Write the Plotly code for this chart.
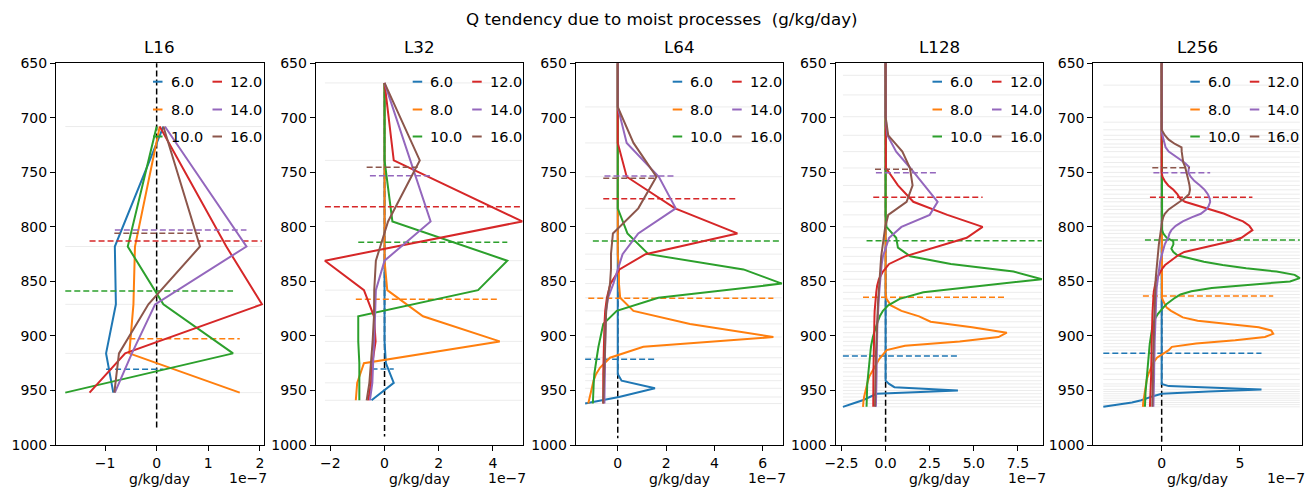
import plotly.graph_objects as go

# ---------------- data ----------------
# x values are in units of 1e-7 g/kg/day, y values are pressure (hPa)
labels = ["6.0", "8.0", "10.0", "12.0", "14.0", "16.0"]
colors = ["#1f77b4", "#ff7f0e", "#2ca02c", "#d62728", "#9467bd", "#8c564b"]
titles = ["L16", "L32", "L64", "L128", "L256"]

# ---- L16 ----
L16_lev = [708, 818, 871, 916, 952]
L16_q6 = [0.13, -0.81, -0.79, -0.98, -0.84]
L16_q8 = [0.06, -0.42, -0.45, -0.53, 1.61]
L16_q10 = [0.0, -0.56, 0.13, 1.48, -1.77]
L16_q12 = [0.06, 1.35, 2.04, -0.61, -1.30]
L16_q14 = [0.16, 1.74, -0.03, -0.48, -0.81]
L16_q16 = [0.13, 0.84, -0.16, -0.73, -0.82]
L16_pbl = [930.6, 902.5, 858.8, 813.0, 802.8, 805.9]
L16_zero = [640, 984.7]

# ---- L32 ----
L32_lev = [668, 739, 795, 831, 858, 882, 905, 925, 943, 959]
L32_q6 = [0, 0, 0, 0, 0, 0, 0, 0.05, 0.34, -0.48]
L32_q8 = [0, 0, 0, 0, 0.1, 1.42, 4.25, -0.76, -1.01, -1.06]
L32_q10 = [0, 0, 0.29, 4.53, 3.45, -0.97, -0.97, -0.93, -0.93, -0.93]
L32_q12 = [0, 0.34, 5.08, -2.2, -0.76, -0.39, -0.33, -0.45, -0.5, -0.6]
L32_q14 = [0, 0.96, 1.70, 0.0, -0.32, -0.35, -0.39, -0.42, -0.45, -0.54]
L32_q16 = [0, 1.30, 0.13, -0.32, -0.38, -0.39, -0.44, -0.5, -0.56, -0.66]
L32_pbl = [930.3, 866.4, 814.2, 781.5, 753.0, 745.4]
L32_zero = [668, 992.3]

# ---- L64 ----
L64_lev = [645, 690, 723, 754, 783, 806, 825, 839, 852, 865,
           877, 889, 901, 910, 920, 929, 935, 941, 948, 956,
           962]
L64_q6 = [0, 0, 0, 0, 0, 0, 0, 0, 0, 0,
          0, 0, 0, 0, 0, 0, 0, 0.16, 1.54, 0.05,
          -1.35]
L64_q8 = [0, 0, 0, 0, 0, 0, 0, 0.05, 0.05, 0.1,
          0.65, 2.99, 6.44, 1.06, -0.32, -0.73, -0.9, -1.0, -1.08, -1.15,
          -1.22]
L64_q10 = [0, 0, 0, 0, 0, 0.4, 1.27, 5.2, 6.79, 1.68,
           -0.04, -0.6, -0.73, -0.8, -0.87, -0.94, -0.97, -0.99, -1.0, -1.02,
           -1.03]
L64_q12 = [0, 0, 0, 0.37, 2.37, 4.95, 1.15, 0.07, -0.3, -0.45,
           -0.52, -0.55, -0.57, -0.58, -0.59, -0.6, -0.6, -0.6, -0.6, -0.6,
           -0.6]
L64_q14 = [0, 0, 0.37, 1.7, 2.4, 0.85, 0.2, 0.0, -0.18, -0.4,
           -0.48, -0.5, -0.52, -0.52, -0.53, -0.53, -0.54, -0.54, -0.55, -0.55,
           -0.55]
L64_q16 = [0, 0, 0.65, 1.6, 0.85, -0.2, -0.28, -0.28, -0.32, -0.42,
           -0.48, -0.5, -0.52, -0.54, -0.55, -0.56, -0.57, -0.58, -0.59, -0.6,
           -0.6]
L64_pbl = [921.4, 865.5, 813.0, 774.1, 753.3, 755.5]
L64_zero = [645, 993.9]

# ---- L128 ----
L128_lev = [646, 661, 679, 699, 716, 731, 746, 762, 777, 789,
            800, 810, 819, 827, 834, 841, 848, 854, 860, 866,
            872, 877, 882, 887, 892, 897, 901, 905, 909, 913,
            917, 921, 925, 929, 933, 937, 941, 944, 947, 950,
            953, 956, 959, 962, 965]
L128_q6 = [0, 0, 0, 0, 0, 0, 0, 0, 0, 0,
           0, 0, 0, 0, 0, 0, 0, 0, 0, 0,
           0, 0, 0, 0, 0, 0, 0, 0, 0, 0,
           0, 0, 0, 0, 0, 0, 0, 0.2, 0.5, 4.1,
           -0.5, -0.9, -1.3, -1.85, -2.42]
L128_q8 = [0, 0, 0, 0, 0, 0, 0, 0, 0, 0,
           0, 0, 0, 0, 0, 0, 0, 0, 0, 0.05,
           0.3, 0.9, 1.9, 2.55, 4.9, 6.87, 6.4, 4.2, 1.1, 0.06,
           -0.15, -0.35, -0.5, -0.65, -0.8, -0.92, -1.0, -1.05, -1.1, -1.15,
           -1.18, -1.22, -1.25, -1.27, -1.28]
L128_q10 = [0, 0, 0, 0, 0, 0, 0, 0, 0, 0,
            0.05, 0.6, 0.7, 1.4, 3.7, 7.25, 8.86, 5.5, 2.14, 0.8,
            0.15, -0.15, -0.33, -0.45, -0.57, -0.65, -0.72, -0.78, -0.82, -0.85,
            -0.88, -0.9, -0.93, -0.96, -0.99, -1.0, -1.02, -1.04, -1.05, -1.06,
            -1.07, -1.07, -1.08, -1.08, -1.08]
L128_q12 = [0, 0, 0, 0, 0, 0, 0.02, 0.7, 1.57, 3.5,
            5.5, 4.6, 2.7, 1.1, 0.2, -0.15, -0.38, -0.48, -0.53, -0.57,
            -0.6, -0.62, -0.63, -0.64, -0.65, -0.66, -0.66, -0.67, -0.67, -0.67,
            -0.68, -0.68, -0.68, -0.69, -0.69, -0.69, -0.69, -0.7, -0.7, -0.7,
            -0.7, -0.7, -0.7, -0.7, -0.7]
L128_q14 = [0, 0, 0, 0, 0.1, 0.6, 1.4, 2.2, 2.95, 2.5,
            0.9, 0.2, 0.0, -0.15, -0.22, -0.27, -0.3, -0.33, -0.36, -0.39,
            -0.42, -0.44, -0.45, -0.46, -0.47, -0.48, -0.48, -0.49, -0.49, -0.5,
            -0.5, -0.5, -0.5, -0.51, -0.51, -0.51, -0.51, -0.52, -0.52, -0.52,
            -0.53, -0.53, -0.54, -0.54, -0.55]
L128_q16 = [0, 0, 0, 0, 0.15, 0.95, 1.38, 1.53, 1.19, 0.15,
            -0.02, -0.12, -0.2, -0.25, -0.28, -0.3, -0.33, -0.36, -0.39, -0.42,
            -0.44, -0.46, -0.47, -0.48, -0.49, -0.5, -0.51, -0.52, -0.53, -0.54,
            -0.55, -0.55, -0.56, -0.56, -0.57, -0.57, -0.58, -0.58, -0.58, -0.59,
            -0.59, -0.59, -0.6, -0.6, -0.6]
L128_pbl = [918.4, 864.6, 812.6, 772.9, 750.3, 747.2]
L128_zero = [645, 997.0]

# ---- L256 ----
L256_lev = [646, 670, 690, 704, 711, 716, 720, 724, 727, 731,
            736, 741, 745, 750, 754, 758, 762, 766, 770, 774,
            777, 781, 784, 788, 791, 795, 799, 803, 806, 810,
            813, 816, 820, 823, 826, 829, 832, 835, 838, 841,
            844, 847, 850, 853, 856, 859, 862, 865, 868, 871,
            874, 877, 880, 883, 886, 889, 892, 895, 898, 901,
            904, 907, 910, 913, 916, 920, 925, 930, 935, 940,
            944, 946, 949, 951, 953, 955, 957, 959, 961, 963,
            965]
L256_q6 = [0, 0, 0, 0, 0, 0, 0, 0, 0, 0,
           0, 0, 0, 0, 0, 0, 0, 0, 0, 0,
           0, 0, 0, 0, 0, 0, 0, 0, 0, 0,
           0, 0, 0, 0, 0, 0, 0, 0, 0, 0,
           0, 0, 0, 0, 0, 0, 0, 0, 0, 0,
           0, 0, 0, 0, 0, 0, 0, 0, 0, 0,
           0, 0, 0, 0, 0, 0, 0, 0, 0, 0,
           0, 0.45, 6.38, 3.0, 0.0, -0.5, -0.9, -1.3, -1.9, -2.8,
           -3.73]
L256_q8 = [0, 0, 0, 0, 0, 0, 0, 0, 0, 0,
           0, 0, 0, 0, 0, 0, 0, 0, 0, 0,
           0, 0, 0, 0, 0, 0, 0, 0, 0, 0,
           0, 0, 0, 0, 0, 0, 0, 0, 0, 0,
           0, 0, 0, 0, 0, 0, 0, 0.02, 0.1, 0.2,
           0.32, 0.6, 0.95, 1.35, 2.3, 4.2, 6.2, 7.0, 7.13, 6.6,
           4.7, 2.2, 0.65, 0.45, 0.1, -0.3, -0.55, -0.72, -0.85, -0.95,
           -1.0, -1.03, -1.07, -1.09, -1.11, -1.13, -1.15, -1.17, -1.18, -1.19,
           -1.2]
L256_q10 = [0, 0, 0, 0, 0, 0, 0, 0, 0, 0,
            0, 0, 0, 0, 0, 0, 0, 0, 0, 0,
            0, 0, 0, 0, 0, 0, 0, 0.03, 0.1, 0.32,
            0.74, 0.75, 0.62, 0.75, 1.0, 1.8, 2.7, 3.9, 5.4, 7.34,
            8.5, 8.83, 8.2, 5.7, 3.2, 1.9, 1.2, 0.85, 0.55, 0.3,
            0.1, -0.1, -0.25, -0.38, -0.48, -0.55, -0.6, -0.64, -0.67, -0.7,
            -0.73, -0.76, -0.78, -0.8, -0.82, -0.85, -0.89, -0.93, -0.96, -0.99,
            -1.0, -1.01, -1.02, -1.03, -1.04, -1.04, -1.05, -1.06, -1.06, -1.07,
            -1.07]
L256_q12 = [0, 0, 0, 0, 0, 0, 0, 0, 0, 0,
            0, 0, 0, 0, 0.05, 0.2, 0.42, 0.75, 1.0, 1.17,
            1.49, 2.4, 3.1, 4.0, 4.5, 5.2, 5.6, 5.8, 5.5, 5.1,
            4.5, 3.6, 2.2, 1.45, 1.05, 0.75, 0.45, 0.22, 0.05, -0.08,
            -0.2, -0.3, -0.38, -0.43, -0.47, -0.5, -0.52, -0.54, -0.55, -0.56,
            -0.57, -0.58, -0.59, -0.6, -0.6, -0.61, -0.61, -0.62, -0.62, -0.63,
            -0.63, -0.64, -0.64, -0.65, -0.65, -0.66, -0.66, -0.67, -0.67, -0.68,
            -0.68, -0.69, -0.69, -0.7, -0.7, -0.71, -0.72, -0.73, -0.74, -0.74,
            -0.75]
L256_q14 = [0, 0, 0, 0, 0, 0.05, 0.12, 0.18, 0.25, 0.45,
            0.95, 1.45, 1.75, 1.7, 1.85, 2.1, 2.45, 2.75, 2.95, 3.07,
            3.1, 3.0, 2.85, 2.5, 1.95, 1.35, 0.9, 0.62, 0.5, 0.42,
            0.3, 0.2, 0.12, 0.05, 0.0, -0.05, -0.1, -0.13, -0.16, -0.2,
            -0.23, -0.26, -0.28, -0.3, -0.32, -0.33, -0.34, -0.35, -0.36, -0.37,
            -0.38, -0.39, -0.4, -0.41, -0.41, -0.42, -0.42, -0.43, -0.43, -0.44,
            -0.44, -0.45, -0.45, -0.46, -0.46, -0.47, -0.47, -0.48, -0.48, -0.49,
            -0.49, -0.5, -0.5, -0.5, -0.51, -0.51, -0.51, -0.52, -0.52, -0.52,
            -0.53]
L256_q16 = [0, 0, 0, 0, 0, 0.2, 0.45, 0.85, 1.27, 1.28,
            1.32, 1.38, 1.5, 1.6, 1.65, 1.72, 1.78, 1.81, 1.75, 1.45,
            1.15, 0.7, 0.45, 0.2, 0.1, 0.03, 0.0, -0.04, -0.08, -0.12,
            -0.15, -0.18, -0.21, -0.24, -0.27, -0.29, -0.31, -0.33, -0.35, -0.36,
            -0.37, -0.38, -0.39, -0.4, -0.41, -0.42, -0.43, -0.44, -0.45, -0.46,
            -0.46, -0.47, -0.47, -0.48, -0.48, -0.49, -0.49, -0.5, -0.5, -0.51,
            -0.51, -0.52, -0.52, -0.53, -0.53, -0.54, -0.54, -0.55, -0.55, -0.56,
            -0.56, -0.56, -0.57, -0.57, -0.57, -0.58, -0.58, -0.58, -0.59, -0.59,
            -0.6]
L256_pbl = [915.9, 863.4, 812.0, 772.9, 750.3, 745.7]
L256_zero = [645, 998.5]

# axis tick labels
y_ticks = [650, 700, 750, 800, 850, 900, 950, 1000]
x_ticks = [[-1, 0, 1, 2], [-2, 0, 2, 4], [0, 2, 4, 6], [-2.5, 0, 2.5, 5, 7.5], [0, 5]]
x_ticktext = [["\u22121", "0", "1", "2"], ["\u22122", "0", "2", "4"], ["0", "2", "4", "6"],
              ["\u22122.5", "0.0", "2.5", "5.0", "7.5"], ["0", "5"]]
x_ranges = [[-1.95, 2.07], [-2.54, 5.12], [-1.74, 6.85], [-2.84, 8.94], [-4.37, 8.95]]

panels = [
    (L16_lev, [L16_q6, L16_q8, L16_q10, L16_q12, L16_q14, L16_q16], L16_pbl, L16_zero),
    (L32_lev, [L32_q6, L32_q8, L32_q10, L32_q12, L32_q14, L32_q16], L32_pbl, L32_zero),
    (L64_lev, [L64_q6, L64_q8, L64_q10, L64_q12, L64_q14, L64_q16], L64_pbl, L64_zero),
    (L128_lev, [L128_q6, L128_q8, L128_q10, L128_q12, L128_q14, L128_q16], L128_pbl, L128_zero),
    (L256_lev, [L256_q6, L256_q8, L256_q10, L256_q12, L256_q14, L256_q16], L256_pbl, L256_zero),
]

# ---------------- layout geometry (pixels) ----------------
W, H = 1311, 489
ax_left = [56, 315.7, 575.7, 835.5, 1093.3]
ax_right = [263.5, 523.3, 783.3, 1043.3, 1301.7]
ax_top, ax_bot = 63.3, 445.0
FONT = "DejaVu Sans"

fig = go.Figure()
layout = dict(margin=dict(l=0, r=0, t=0, b=0, autoexpand=False), autosize=True,
              paper_bgcolor="white", plot_bgcolor="white", showlegend=False,
              hovermode=False, font=dict(family=FONT, color="black", size=14))
annotations = []
shapes = []

dash = "6px,3px"
for i, (lev, series, pbl, zero) in enumerate(panels):
    n = i + 1
    xa = "x" if n == 1 else f"x{n}"
    ya = "y" if n == 1 else f"y{n}"
    allx = [v for s in series for v in s]
    lo, hi = min(allx), max(allx)
    gx, gy = [], []
    for p in lev:
        gx += [lo, hi, None]
        gy += [p, p, None]
    fig.add_trace(go.Scatter(x=gx, y=gy, mode="lines", xaxis=xa, yaxis=ya,
                             line=dict(color="rgba(0,0,0,0.08)", width=1)))
    fig.add_trace(go.Scatter(x=[0, 0], y=zero, mode="lines", xaxis=xa, yaxis=ya,
                             line=dict(color="black", width=1.5, dash=dash)))
    for s, c, pb in zip(series, colors, pbl):
        fig.add_trace(go.Scatter(x=s, y=lev, mode="lines", xaxis=xa, yaxis=ya,
                                 line=dict(color=c, width=2)))
        fig.add_trace(go.Scatter(x=[min(s), max(s)], y=[pb, pb], mode="lines",
                                 xaxis=xa, yaxis=ya,
                                 line=dict(color=c, width=1.5, dash=dash)))

    axcommon = dict(ticks="outside", ticklen=5, tickwidth=1, tickcolor="black",
                    showline=True, linecolor="black", linewidth=1, mirror=True,
                    showgrid=False, zeroline=False,
                    tickfont=dict(family=FONT, size=14, color="black"))
    layout["xaxis" if n == 1 else f"xaxis{n}"] = dict(
        domain=[ax_left[i] / W, ax_right[i] / W], range=x_ranges[i],
        tickvals=x_ticks[i], ticktext=x_ticktext[i], anchor=ya, **axcommon)
    layout["yaxis" if n == 1 else f"yaxis{n}"] = dict(
        domain=[1 - ax_bot / H, 1 - ax_top / H], range=[1000, 650],
        tickvals=y_ticks, ticktext=[str(t) for t in y_ticks], anchor=xa, **axcommon)

    xd = f"{xa} domain"
    yd = f"{ya} domain"
    # subplot title
    annotations.append(dict(text=titles[i], xref=xd, x=0.5, yref="paper", y=1 - 47 / H,
                            showarrow=False, xanchor="center", yanchor="middle",
                            font=dict(size=16.7, family=FONT, color="black")))
    # x label + offset text
    annotations.append(dict(text="g/kg/day", xref=xd, x=0.5, yref="paper", y=1 - 479 / H,
                            showarrow=False, xanchor="center", yanchor="middle",
                            font=dict(size=14, family=FONT, color="black")))
    annotations.append(dict(text="1e\u22127", xref=xd, x=1, xshift=5, yref="paper",
                            y=1 - 478 / H, showarrow=False, xanchor="right", yanchor="middle",
                            font=dict(size=14, family=FONT, color="black")))
    # legend (2 columns, column-major like matplotlib ncol=2)
    wpx = ax_right[i] - ax_left[i]
    hpx = ax_bot - ax_top
    row_py = [81.7, 109.5, 136.5]
    col_h = [(97, 106.5, 112.5), (156.5, 166, 172)]
    for k, (lab, c) in enumerate(zip(labels, colors)):
        col, row = k // 3, k % 3
        h0, h1, tx = col_h[col]
        yy = 1 - (row_py[row] - ax_top) / hpx
        shapes.append(dict(type="line", xref=xd, yref=yd, x0=h0 / wpx, x1=h1 / wpx,
                           y0=yy, y1=yy, line=dict(color=c, width=2)))
        annotations.append(dict(text=lab, xref=xd, x=tx / wpx, yref=yd, y=yy,
                                showarrow=False, xanchor="left", yanchor="middle",
                                font=dict(size=14.5, family=FONT, color="black")))

annotations.append(dict(text="Q tendency due to moist processes  (g/kg/day)",
                        xref="paper", x=662 / W, yref="paper", y=1 - 19 / H,
                        showarrow=False, xanchor="center", yanchor="middle",
                        font=dict(size=16.7, family=FONT, color="black")))
layout["annotations"] = annotations
layout["shapes"] = shapes
fig.update_layout(**layout)
# the plot div is pinned to the top-left corner of the page, at exactly 1311 x 489 px
fig.write_html("out.html",
               default_width=f"{W}px;position:absolute;left:0;top:0",
               default_height=f"{H}px")
